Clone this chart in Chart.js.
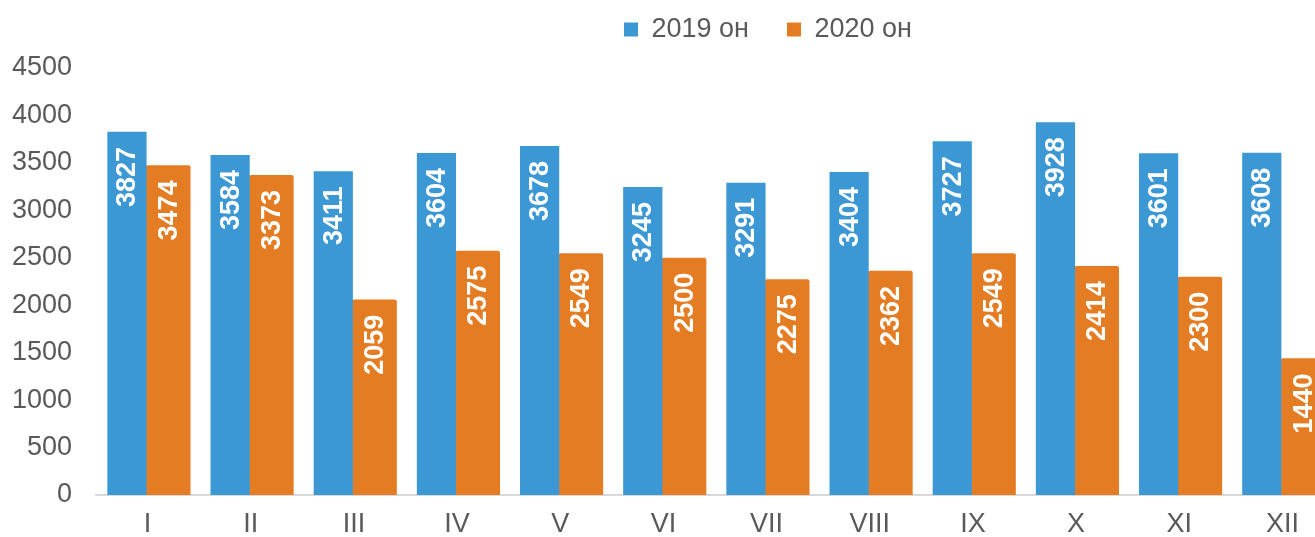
<!DOCTYPE html>
<html lang="mn">
<head>
    <meta charset="UTF-8">
    <title>2019-2020</title>
    <script src="https://cdn.jsdelivr.net/npm/chart.js"></script>
    <style>
        html, body {
            margin: 0;
            padding: 0;
            background: #FFFFFF;
            overflow: hidden;
        }
        .chart-box {
            width: 1334px;
            height: 537px;
        }
    </style>
</head>
<body>
    <div class="chart-box">
        <canvas id="monthChart"></canvas>
    </div>

    <script>
        const months = ['I', 'II', 'III', 'IV', 'V', 'VI', 'VII', 'VIII', 'IX', 'X', 'XI', 'XII'];
        const values2019 = [3827, 3584, 3411, 3604, 3678, 3245, 3291, 3404, 3727, 3928, 3601, 3608];
        const values2020 = [3474, 3373, 2059, 2575, 2549, 2500, 2275, 2362, 2549, 2414, 2300, 1440];
        const seriesNames = ['2019 он', '2020 он'];

        const fontFamily = 'Arial, "Liberation Sans", sans-serif';
        const textGray = '#595959';

        // white rotated value labels inside the top of every bar
        const barLabels = {
            id: 'barLabels',
            afterDatasetsDraw(chart) {
                const ctx = chart.ctx;
                ctx.save();
                ctx.fillStyle = '#FFFFFF';
                ctx.font = 'bold 27px ' + fontFamily;
                ctx.textAlign = 'right';
                ctx.textBaseline = 'middle';
                chart.data.datasets.forEach((ds, i) => {
                    chart.getDatasetMeta(i).data.forEach((bar, j) => {
                        ctx.save();
                        ctx.translate(bar.x + 1, bar.y + 15);
                        ctx.rotate(-Math.PI / 2);
                        ctx.fillText(ds.data[j], 0, 0);
                        ctx.restore();
                    });
                });
                ctx.restore();
            }
        };

        // move the legend right and up, like in the original picture
        const legendShift = {
            id: 'legendShift',
            afterLayout(chart) {
                const lg = chart.legend;
                lg.left += 96;
                lg.right += 96;
                lg.top -= 15;
                lg.bottom -= 15;
                lg.adjustHitBoxes();
            }
        };

        const ctx = document.getElementById('monthChart').getContext('2d');
        new Chart(ctx, {
            type: 'bar',
            data: {
                labels: months,
                datasets: [
                    {
                        label: seriesNames[0],
                        data: values2019,
                        backgroundColor: '#3C97D5',
                        categoryPercentage: 0.8,
                        barPercentage: 0.95
                    },
                    {
                        label: seriesNames[1],
                        data: values2020,
                        backgroundColor: '#E47C24',
                        borderRadius: { topLeft: 2, topRight: 2 },
                        borderSkipped: 'bottom',
                        categoryPercentage: 0.8,
                        barPercentage: 1.08
                    }
                ]
            },
            options: {
                responsive: true,
                maintainAspectRatio: false,
                animation: false,
                layout: {
                    padding: { left: 10, right: 0, top: -7, bottom: 0 }
                },
                plugins: {
                    legend: {
                        position: 'top',
                        labels: {
                            font: { size: 27, family: fontFamily },
                            color: textGray,
                            boxWidth: 14,
                            boxHeight: 14,
                            padding: 38
                        }
                    },
                    tooltip: { enabled: false }
                },
                scales: {
                    x: {
                        afterFit(scale) { scale.height = 42; },
                        grid: { display: false, drawTicks: false },
                        border: { display: true, color: '#D9D9D9', width: 2 },
                        ticks: {
                            font: { size: 27, family: fontFamily },
                            color: textGray,
                            padding: 13
                        }
                    },
                    y: {
                        afterFit(scale) { scale.width = 86; },
                        min: 0,
                        max: 4500,
                        grid: { display: false, drawTicks: false },
                        border: { display: false },
                        ticks: {
                            stepSize: 500,
                            font: { size: 27, family: fontFamily },
                            color: textGray,
                            padding: 24,
                            callback: v => String(v)
                        }
                    }
                }
            },
            plugins: [barLabels, legendShift]
        });
    </script>
</body>
</html>
